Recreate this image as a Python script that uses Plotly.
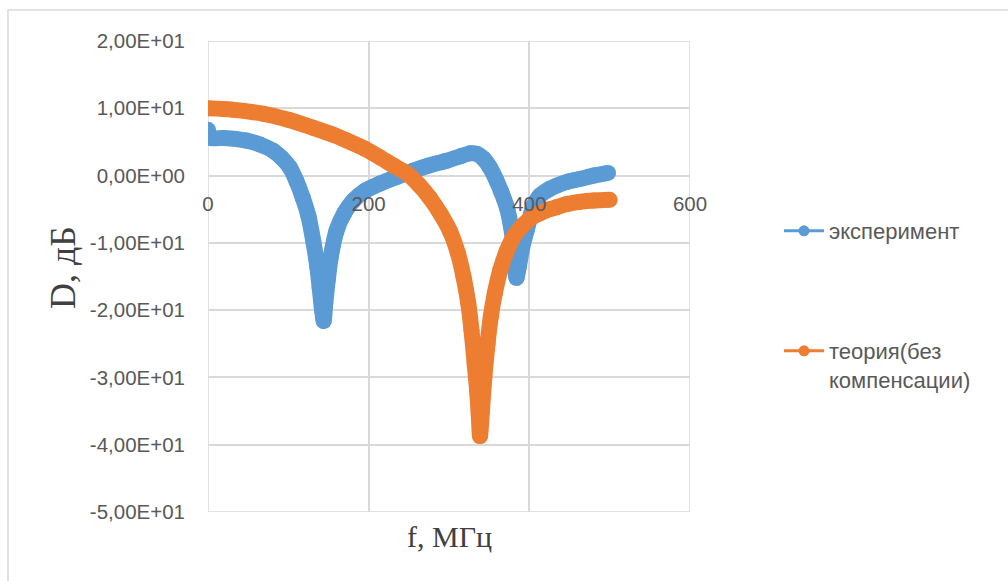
import plotly.graph_objects as go

# ---- data ----
exp_f = [0, 3, 20, 48, 65, 81, 92, 102, 110, 118, 125, 131, 136, 139, 142, 144,
         146, 149, 153, 160, 170, 181, 195, 214, 235, 255, 275, 297, 315, 326,
         335, 343, 351, 359, 365, 372, 377, 381, 384, 387, 391, 397, 405, 413,
         425, 434, 448, 463, 480, 498]
exp_d = [6.8, 5.6, 5.6, 5.2, 4.6, 3.7, 2.6, 1.2, -0.8, -3.3, -6.0, -9.7, -13.5,
         -16.7, -20.0, -21.6, -19.0, -15.6, -12.0, -8.2, -5.5, -3.7, -2.3, -1.2,
         -0.2, 0.7, 1.5, 2.2, 2.9, 3.3, 3.2, 2.5, 1.2, -0.7, -2.4, -4.7, -7.5,
         -11.0, -15.2, -13.5, -10.8, -8.0, -4.6, -3.0, -2.0, -1.5, -0.9, -0.5,
         0.0, 0.4]

th_f = [0, 30, 68, 100, 131, 155, 173, 195, 214, 232, 248, 262, 276, 290, 301,
        311, 318, 324, 328, 332, 335, 337, 338.6, 341, 344, 348, 352, 357, 364,
        372, 382, 392, 403, 413, 425, 434, 448, 463, 480, 500]
th_d = [10.0, 9.8, 9.2, 8.3, 7.1, 6.1, 5.2, 4.0, 2.7, 1.4, 0.3, -1.3, -3.3,
        -5.8, -8.2, -11.5, -15.0, -19.0, -23.0, -28.0, -32.0, -35.5, -38.7,
        -35.0, -30.0, -25.0, -21.0, -17.5, -14.0, -11.2, -8.8, -7.4, -6.2,
        -5.6, -5.0, -4.7, -4.2, -3.9, -3.7, -3.6]

y_ticks = [-50, -40, -30, -20, -10, 0, 10, 20]
y_tick_text = ["-5,00E+01", "-4,00E+01", "-3,00E+01", "-2,00E+01",
               "-1,00E+01", "0,00E+00", "1,00E+01", "2,00E+01"]
x_ticks = [0, 200, 400, 600]
x_tick_text = ["0", "200", "400", "600"]

series_names = ["эксперимент", "теория(без<br>компенсации)"]
BLUE = "#5b9bd5"
ORANGE = "#ed7d31"
GRID = "#d9d9d9"

# plot-area geometry in pixels
L, R, T, B = 208, 690, 41, 512
W, H = 1008, 581
PW, PH = R - L, B - T


def px_x(px):
    return (px - L) / PW


def px_y(py):
    return (B - py) / PH


LW = 16
fig = go.Figure()
fig.add_trace(go.Scatter(x=exp_f, y=exp_d, mode="lines+markers",
                         line=dict(color=BLUE, width=LW, shape="spline", smoothing=0.7),
                         marker=dict(color=BLUE, size=LW),
                         showlegend=False, hoverinfo="skip"))
fig.add_trace(go.Scatter(x=th_f, y=th_d, mode="lines+markers",
                         line=dict(color=ORANGE, width=LW, shape="spline", smoothing=0.7),
                         marker=dict(color=ORANGE, size=LW),
                         showlegend=False, hoverinfo="skip"))
# legend entries
fig.add_trace(go.Scatter(x=[None], y=[None], mode="lines+markers",
                         name=series_names[0],
                         line=dict(color=BLUE, width=3),
                         marker=dict(color=BLUE, size=11),
                         legend="legend"))
fig.add_trace(go.Scatter(x=[None], y=[None], mode="lines+markers",
                         name=series_names[1],
                         line=dict(color=ORANGE, width=3),
                         marker=dict(color=ORANGE, size=11),
                         legend="legend2"))

tick_font = dict(family="Liberation Sans, Arial, sans-serif", size=20.5, color="#595959")
leg_font = dict(family="Liberation Sans, Arial, sans-serif", size=22, color="#595959")
serif_x = dict(family="Liberation Serif, Times New Roman, serif", size=30, color="#404040")
serif_y = dict(family="Liberation Serif, Times New Roman, serif", size=36, color="#404040")

grid_line = dict(color=GRID, width=1.5)

fig.update_layout(
    width=W, height=H,
    margin=dict(l=L, r=W - R, t=T, b=H - B),
    paper_bgcolor="white", plot_bgcolor="white",
    xaxis=dict(range=[0, 600], tickvals=x_ticks, ticktext=x_tick_text,
               showgrid=True, gridcolor=GRID, gridwidth=1.5,
               zeroline=False, showline=False, anchor="free",
               position=(0 - (-50)) / 70, ticks="", ticklabelstandoff=14,
               tickfont=tick_font, fixedrange=True),
    yaxis=dict(range=[-50, 20], tickvals=y_ticks, ticktext=y_tick_text,
               showgrid=True, gridcolor=GRID, gridwidth=1.5,
               zeroline=False, showline=False, ticks="",
               ticklabelstandoff=22, tickfont=tick_font, fixedrange=True),
    legend=dict(x=px_x(779), y=px_y(231), xanchor="left", yanchor="middle",
                itemwidth=40, font=leg_font, bgcolor="rgba(0,0,0,0)"),
    legend2=dict(x=px_x(779), y=px_y(330), xanchor="left", yanchor="top",
                 valign="top", itemwidth=40, font=leg_font,
                 bgcolor="rgba(0,0,0,0)"),
    annotations=[
        dict(text="f, МГц", xref="paper", yref="paper", x=0.5, y=px_y(536),
             xanchor="center", yanchor="middle", showarrow=False, font=serif_x),
        dict(text="D, дБ", xref="paper", yref="paper", x=px_x(63), y=px_y(268),
             xanchor="center", yanchor="middle", showarrow=False, textangle=-90,
             font=serif_y),
    ],
    shapes=[
        dict(type="rect", xref="paper", yref="paper",
             x0=px_x(8), x1=px_x(1015), y0=px_y(600), y1=px_y(10),
             line=grid_line, layer="below"),
        dict(type="line", xref="x", yref="paper", x0=x_ticks[0], x1=x_ticks[0],
             y0=0, y1=1, line=grid_line, layer="below"),
        dict(type="line", xref="x", yref="paper", x0=x_ticks[-1], x1=x_ticks[-1],
             y0=0, y1=1, line=grid_line, layer="below"),
        dict(type="line", xref="paper", yref="y", x0=0, x1=1,
             y0=y_ticks[0], y1=y_ticks[0], line=grid_line, layer="below"),
        dict(type="line", xref="paper", yref="y", x0=0, x1=1,
             y0=y_ticks[-1], y1=y_ticks[-1], line=grid_line, layer="below"),
    ],
)

fig.write_html("out.html")
